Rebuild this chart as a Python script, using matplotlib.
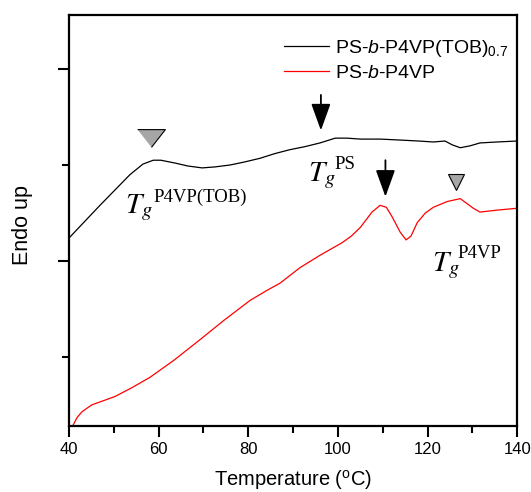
import numpy as np
import matplotlib
matplotlib.use("Agg")
from matplotlib import pyplot as plt
from matplotlib.ticker import MultipleLocator, FixedLocator

plt.rcParams['font.family'] = ['Liberation Sans', 'DejaVu Sans']
plt.rcParams['mathtext.fontset'] = 'custom'
plt.rcParams['mathtext.rm'] = 'Liberation Sans'
plt.rcParams['mathtext.it'] = 'Liberation Sans:italic'

# DSC traces (temperature in C, heat flow in arbitrary units)
temp_tob = [40.0, 46.9, 53.6, 56.5, 58.8, 60.5, 63.7, 66.5, 69.7, 72.5, 75.9,
            79.0, 82.6, 86.0, 89.3, 92.5, 96.0, 99.4, 102.0, 105.0, 109.5,
            113.9, 118.0, 121.3, 123.9, 125.5, 127.3, 129.5, 131.7, 135.5, 140.0]
flow_tob = [2.24, 2.58, 2.90, 3.01, 3.05, 3.05, 3.02, 2.99, 2.97, 2.98, 3.00,
            3.03, 3.07, 3.12, 3.16, 3.19, 3.23, 3.28, 3.28, 3.27, 3.27,
            3.26, 3.25, 3.24, 3.25, 3.21, 3.18, 3.20, 3.23, 3.24, 3.25]

temp_ps = [40.9, 41.8, 42.9, 45.0, 50.3, 54.0, 58.1, 63.5, 69.2, 74.5, 80.4,
           84.0, 87.1, 91.5, 96.0, 100.9, 103.0, 105.0, 107.6, 109.4, 110.8,
           112.1, 113.9, 115.2, 116.3, 117.7, 119.5, 121.3, 124.4, 127.3,
           130.2, 131.7, 135.5, 140.0]
flow_ps = [0.29, 0.37, 0.43, 0.50, 0.59, 0.68, 0.79, 0.97, 1.18, 1.38, 1.59,
           1.69, 1.77, 1.93, 2.06, 2.19, 2.26, 2.35, 2.51, 2.58, 2.56,
           2.46, 2.30, 2.22, 2.26, 2.40, 2.50, 2.56, 2.62, 2.65,
           2.55, 2.51, 2.53, 2.55]

series_labels = ['PS-$b$-P4VP(TOB)$_{0.7}$', 'PS-$b$-P4VP']
series_colors = ['black', 'red']

fig = plt.figure(figsize=(5.31, 4.92), dpi=100)
ax = fig.add_axes([0.130, 0.134, 0.844, 0.8355])

ax.plot(temp_tob, flow_tob, color=series_colors[0], lw=0.9, label=series_labels[0])
ax.plot(temp_ps, flow_ps, color=series_colors[1], lw=0.9, label=series_labels[1])

ax.set_xlim(40, 140)
ax.set_ylim(0.281, 4.5625)
ax.xaxis.set_major_locator(MultipleLocator(20))
ax.xaxis.set_minor_locator(MultipleLocator(10))
ax.yaxis.set_major_locator(FixedLocator([2, 4]))
ax.yaxis.set_minor_locator(FixedLocator([1, 3]))
ax.set_yticklabels([])
ax.tick_params(which='major', direction='out', length=8, width=1.5, labelsize=12,
               top=False, right=False)
ax.tick_params(which='minor', direction='out', length=5, width=1.5, top=False, right=False)
for s in ax.spines.values():
    s.set_linewidth(1.6)

ax.set_xlabel(r'Temperature ($^{\mathrm{o}}$C)', fontsize=14.5)
ax.set_ylabel('Endo up', fontsize=15.5)
ax.xaxis.set_label_coords(0.5, -0.102)
ax.yaxis.set_label_coords(-0.08, 0.49)

leg = ax.legend(loc='upper right', bbox_to_anchor=(1.02, 0.987), frameon=False,
                fontsize=14, handlelength=2.3, handletextpad=0.35, labelspacing=0.3)

# glass transition markers
tri = [(-1, 0.64), (1, 0.64), (0, -0.64)]
ax.plot([58.3], [3.286], marker=tri, ms=20, color='#a6a6a6', mec='black', mew=0.8)
ax.plot([126.4], [2.823], marker='v', ms=11.5, color='#a6a6a6', mec='black', mew=0.8)
arrow = dict(arrowstyle='-|>,head_length=0.83,head_width=0.3', lw=1.3, color='black',
             mutation_scale=20, shrinkA=0, shrinkB=0)
ax.annotate('', xy=(96.2, 3.36), xytext=(96.2, 3.73), arrowprops=arrow)
ax.annotate('', xy=(110.6, 2.67), xytext=(110.6, 3.05), arrowprops=arrow)

# T_g labels: italic T with subscript g, plus a raised serif superscript
tg_labels = ['P4VP(TOB)', 'PS', 'P4VP']
tg_x = [52.5, 93.3, 121.0]
tg_y = [2.50, 2.83, 1.90]
sup_offsets = [(28, 11), (27, 12), (25, 13)]
for lab, x, y, off in zip(tg_labels, tg_x, tg_y, sup_offsets):
    ax.text(x, y, r'$T_g$', fontsize=21, math_fontfamily='stix', ha='left', va='baseline')
    ax.annotate(lab, xy=(x, y), xytext=off, textcoords='offset pixels',
                family='Liberation Serif', fontsize=13.5, ha='left', va='baseline')

fig.savefig('out.png', dpi=100)
